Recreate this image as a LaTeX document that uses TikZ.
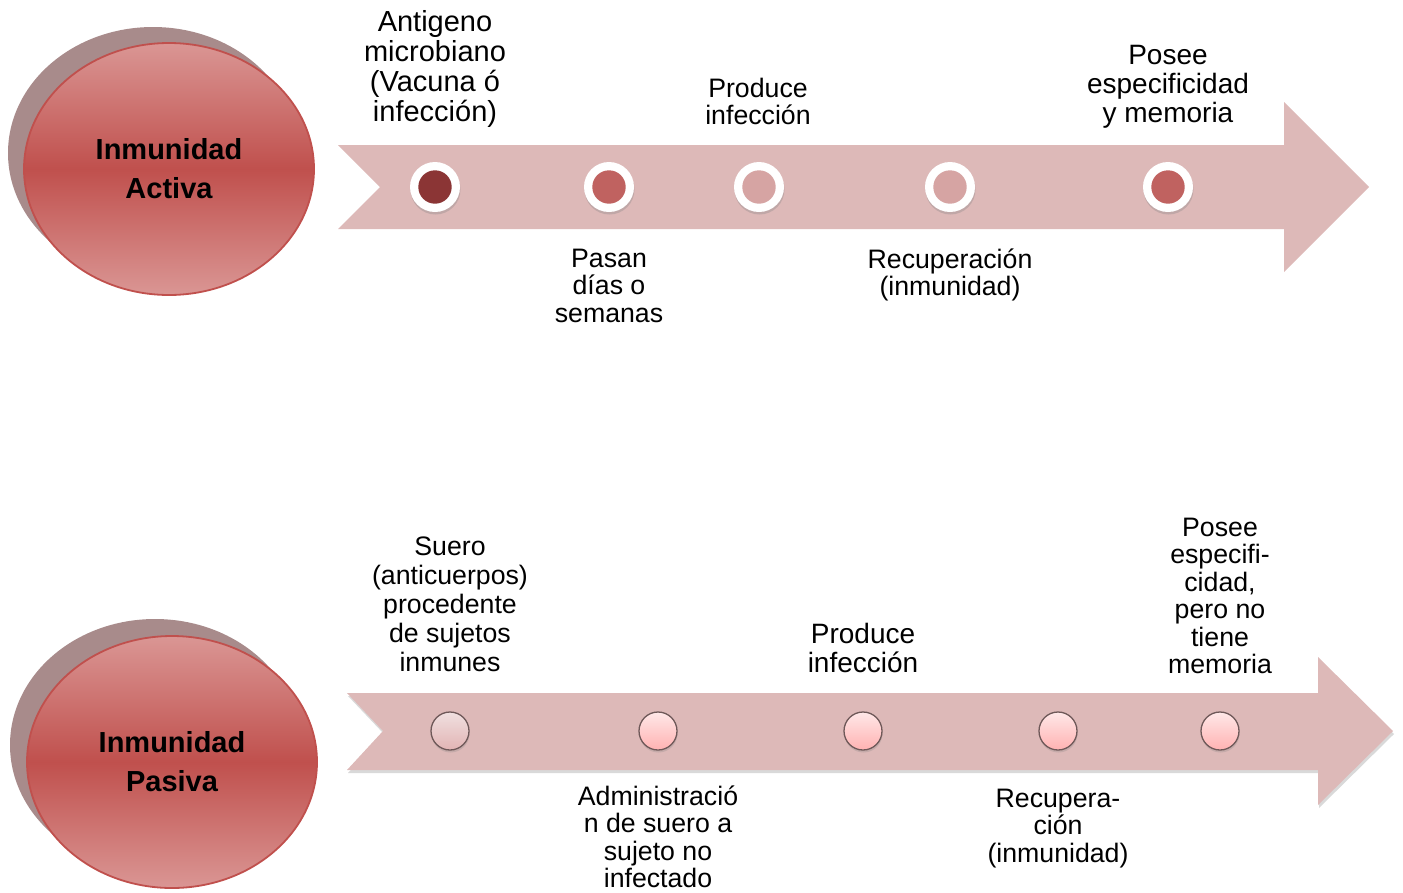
\documentclass[tikz,border=0pt]{standalone}
\usepackage{fontspec}
\setmainfont{Liberation Sans}
\usetikzlibrary{shapes.geometric,shadows}

\definecolor{band}{HTML}{DDB9B8}
\definecolor{discback}{HTML}{A88B8B}
\definecolor{discedge}{HTML}{C0504D}
\definecolor{discpale}{HTML}{DA9694}
\definecolor{discdeep}{HTML}{C0504D}
\definecolor{dotdark}{HTML}{8B3535}
\definecolor{dotmid}{HTML}{C06260}
\definecolor{dotlight}{HTML}{D6A4A3}
\definecolor{beadedge}{HTML}{6E5858}
\definecolor{beadtopA}{HTML}{F0E0E0}
\definecolor{beadbotA}{HTML}{E2B4B4}
\definecolor{beadtop}{HTML}{FFE8E8}
\definecolor{beadbot}{HTML}{FFB2B2}

\tikzset{
  backdisc/.style={ellipse, fill=discback, minimum width=290pt,
    minimum height=252pt, inner sep=0pt},
  disc/.style={ellipse, draw=discedge, line width=1.8pt,
    top color=discpale, bottom color=discpale, middle color=discdeep,
    minimum width=290pt, minimum height=252pt, inner sep=0pt,
    align=center, font=\bfseries\fontsize{29}{39}\selectfont},
  ring/.style={circle, fill=white, minimum size=50pt, inner sep=0pt,
    drop shadow={opacity=0.3, shadow xshift=0.5pt, shadow yshift=-2.5pt},
    path picture={\fill[#1] (path picture bounding box.center) circle[radius=16.7pt];}},
  bead/.style 2 args={circle, draw=beadedge, line width=1.3pt,
    minimum size=38pt, inner sep=0pt, top color=#1, bottom color=#2,
    drop shadow={opacity=0.25, shadow xshift=0.5pt, shadow yshift=-2.5pt}},
  lbl/.style={align=center, inner sep=0pt, font=\fontsize{26.7}{27.5}\selectfont},
  lblbig/.style={align=center, inner sep=0pt, font=\fontsize{29}{30}\selectfont},
  lblmid/.style={align=center, inner sep=0pt, font=\fontsize{28}{29}\selectfont},
}

\begin{document}
\begin{tikzpicture}[x=1pt,y=-1pt]
\useasboundingbox (0,0) rectangle (1403,892);

% ---- active immunity ----
\node[backdisc] (activeback) at (153,153) {};
\node[disc] (active) at (169,169) {Inmunidad\\Activa};

\fill[band] (338,145) -- (1284,145) -- (1284,102) -- (1369,187)
  -- (1284,272) -- (1284,229) -- (338,229) -- (380,187) -- cycle;

\node[ring=dotdark]  (a1) at (435,187) {};
\node[ring=dotmid]   (a2) at (609,187) {};
\node[ring=dotlight] (a3) at (759,187) {};
\node[ring=dotlight] (a4) at (950,187) {};
\node[ring=dotmid]   (a5) at (1168,187) {};

\node[lblbig] (a1t) at (435,69) {Antigeno\\microbiano\\(Vacuna ó\\infección)};
\node[lbl] (a2t) at (609,285.5) {Pasan\\días o\\semanas};
\node[lbl] (a3t) at (758,101.5) {Produce\\infección};
\node[lbl] (a4t) at (950,275) {Recuperación\\(inmunidad)};
\node[lblmid] (a5t) at (1168,87) {Posee\\especificidad\\y memoria};

% ---- passive immunity ----
\node[backdisc] (passiveback) at (155,745) {};
\node[disc] (passive) at (172,762) {Inmunidad\\Pasiva};

\fill[band, drop shadow={opacity=0.3, shadow xshift=1pt, shadow yshift=-3pt}]
  (347,693) -- (1318,693) -- (1318,657) -- (1393,731)
  -- (1318,805) -- (1318,770) -- (347,770) -- (383,731) -- cycle;

\node[bead={beadtopA}{beadbotA}] (p1) at (450,731) {};
\node[bead={beadtop}{beadbot}]   (p2) at (658,731) {};
\node[bead={beadtop}{beadbot}]   (p3) at (863,731) {};
\node[bead={beadtop}{beadbot}]   (p4) at (1058,731) {};
\node[bead={beadtop}{beadbot}]   (p5) at (1220,731) {};

\node[lbl, font=\fontsize{26.7}{29}\selectfont] (p1t) at (450,604)
  {Suero\\(anticuerpos)\\procedente\\de sujetos\\inmunes};
\node[lbl] (p2t) at (658,837) {Administració\\n de suero a\\sujeto no\\infectado};
\node[lblmid] (p3t) at (863,647.5) {Produce\\infección};
\node[lbl] (p4t) at (1058,828.5) {Recupera-\\ción\\(inmunidad)};
\node[lbl] (p5t) at (1220,596) {Posee\\especifi-\\cidad,\\pero no\\tiene\\memoria};
\end{tikzpicture}
\end{document}
